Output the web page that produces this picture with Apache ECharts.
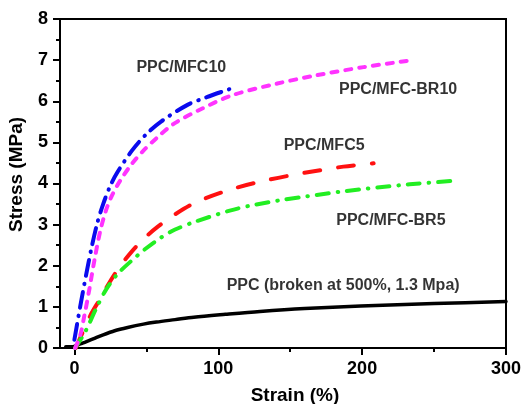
<!DOCTYPE html>
<html>
<head>
<meta charset="utf-8">
<script src="https://cdn.jsdelivr.net/npm/echarts@6/dist/echarts.min.js"></script>
<style>html,body{margin:0;padding:0;background:#fff}#c{width:522px;height:404px}</style>
</head>
<body>
<div id="c"></div>
<script>
// ---- data ----
const ppcX   = [-6, -2, 0, 4, 8, 13, 20, 28, 37, 48, 57, 70, 83, 105, 129, 160, 199, 250, 300];
const ppcY   = [0.03, 0.03, 0.04, 0.1, 0.15, 0.22, 0.32, 0.42, 0.5, 0.58, 0.63, 0.69, 0.75, 0.82, 0.89, 0.96, 1.02, 1.08, 1.13];

const mfc10X = [0, 4, 8, 12, 16, 20, 25, 30, 40, 50, 60, 78, 92, 110];
const mfc10Y = [0.2, 1.0, 1.75, 2.45, 3.05, 3.5, 3.95, 4.28, 4.8, 5.2, 5.5, 5.9, 6.1, 6.32];

const br10X  = [0.5, 4, 7, 10, 14, 18, 22, 26, 32, 40, 48, 57, 69, 87.5, 110, 141, 168, 201, 235];
const br10Y  = [0, 0.3, 0.8, 1.35, 2.15, 2.85, 3.35, 3.7, 4.08, 4.48, 4.8, 5.1, 5.45, 5.8, 6.15, 6.43, 6.63, 6.83, 7.0];

const mfc5X  = [1, 6, 12, 18, 25, 32, 40, 48, 58, 70, 85, 110, 135, 160, 187, 208];
const mfc5Y  = [0, 0.4, 0.85, 1.2, 1.63, 2.0, 2.35, 2.65, 2.95, 3.25, 3.55, 3.87, 4.09, 4.26, 4.41, 4.49];

const br5X   = [0.5, 7.6, 15, 22, 30, 39, 49, 60, 70, 83, 108, 122, 146, 162, 187, 233, 266];
const br5Y   = [0, 0.4, 0.95, 1.42, 1.8, 2.1, 2.4, 2.68, 2.88, 3.06, 3.34, 3.46, 3.61, 3.69, 3.81, 3.98, 4.07];

const xTickValues  = [0, 100, 200, 300];
const xMinorValues = [50, 150, 250];

const labelNames = ['PPC/MFC10', 'PPC/MFC-BR10', 'PPC/MFC5', 'PPC/MFC-BR5', 'PPC (broken at 500%, 1.3 Mpa)'];
const labelX     = [74.3, 225, 173.6, 220, 186.8];
const labelY     = [6.83, 6.29, 4.93, 3.10, 1.51];

// ---- build ----
const zip = (xs, ys) => xs.map((x, i) => [x, ys[i]]);
const font = '"Liberation Sans", Arial, sans-serif';

function line(name, xs, ys, color, dash, width) {
  return {
    name, type: 'line', data: zip(xs, ys), smooth: 0.3, showSymbol: false, symbol: 'none',
    lineStyle: { color, width: width || 3.5, type: dash, cap: 'round' },
    z: 3, animation: false
  };
}

const chart = echarts.init(document.getElementById('c'), null, { renderer: 'canvas' });
chart.setOption({
  animation: false,
  grid: { left: 60, right: 16, top: 19, bottom: 56, outerBoundsMode: 'none', containLabel: false,
          show: true, borderColor: '#000', borderWidth: 2, backgroundColor: 'transparent' },
  xAxis: [{
    type: 'value', min: -10, max: 300,
    axisLine: { onZero: false, lineStyle: { color: '#000', width: 2 } },
    axisTick: { show: true, customValues: xTickValues, length: 7, lineStyle: { color: '#000', width: 2 } },
    axisLabel: { customValues: xTickValues, color: '#000', fontSize: 18, fontWeight: 'bold', fontFamily: font, margin: 12 },
    splitLine: { show: false },
    name: 'Strain (%)', nameLocation: 'middle', nameGap: 38,
    nameTextStyle: { color: '#000', fontSize: 19, fontWeight: 'bold', fontFamily: font, padding: [0, 0, 0, 24] }
  }, {
    type: 'value', min: -10, max: 300, position: 'bottom',
    axisLine: { show: false, onZero: false },
    axisTick: { show: true, customValues: xMinorValues, length: 4, lineStyle: { color: '#000', width: 2 } },
    axisLabel: { show: false },
    splitLine: { show: false }
  }],
  yAxis: {
    type: 'value', min: 0, max: 8, interval: 1,
    axisLine: { show: true, onZero: false, lineStyle: { color: '#000', width: 2 } },
    axisTick: { show: true, length: 7, lineStyle: { color: '#000', width: 2 } },
    minorTick: { show: true, splitNumber: 2, length: 4, lineStyle: { color: '#000', width: 2 } },
    axisLabel: { color: '#000', fontSize: 18, fontWeight: 'bold', fontFamily: font, margin: 12 },
    splitLine: { show: false },
    name: 'Stress (MPa)', nameLocation: 'middle', nameGap: 34,
    nameTextStyle: { color: '#000', fontSize: 19, fontWeight: 'bold', fontFamily: font, padding: [0, 0, 0, 18] }
  },
  series: [
    line('PPC', ppcX, ppcY, '#000000', 'solid', 3.5),
    line('PPC/MFC5', mfc5X, mfc5Y, '#ff1111', [16, 18], 4),
    line('PPC/MFC-BR5', br5X, br5Y, '#22ee22', [12, 9, 0.5, 9], 4),
    line('PPC/MFC-BR10', br10X, br10Y, '#ff33ff', [6, 8], 4),
    line('PPC/MFC10', mfc10X, mfc10Y, '#0a0aee', [16, 8, 0.5, 8], 4),
    {
      type: 'scatter', symbolSize: 1, itemStyle: { color: 'rgba(0,0,0,0)' }, silent: true, z: 5,
      data: labelNames.map((n, i) => ({ name: n, value: [labelX[i], labelY[i]] })),
      label: { show: true, position: 'inside', formatter: '{b}', color: '#000', fontSize: 16, fontWeight: 'bold', fontFamily: font }
    }
  ]
});
</script>
</body>
</html>
